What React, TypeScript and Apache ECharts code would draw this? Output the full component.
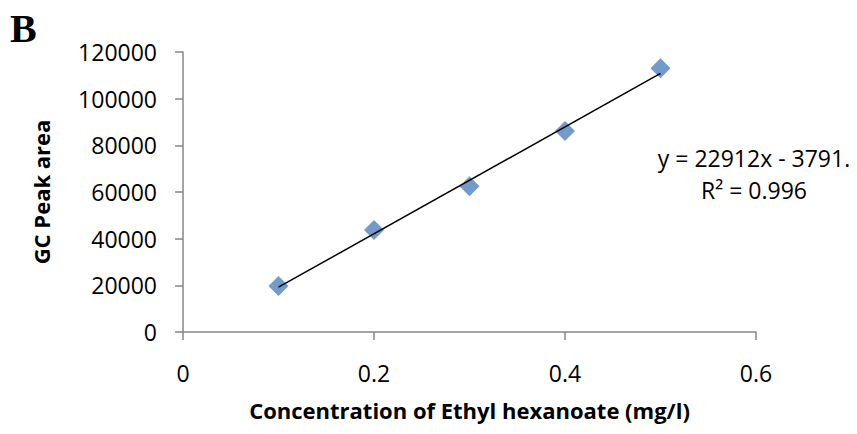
import React, { useEffect, useRef } from "react";
import * as echarts from "echarts";

const concentrations = [0.1, 0.2, 0.3, 0.4, 0.5];
const peakAreas = [19700, 43700, 62500, 86100, 113000];
const xTicks = { min: 0, max: 0.6, interval: 0.2 };
const yTicks = { min: 0, max: 120000, interval: 20000 };
const equationText = "y = 22912x - 3791.";
const r2Text = "R² = 0.996";
const panelLetter = "B";
const xTitle = "Concentration of Ethyl hexanoate (mg/l)";
const yTitle = "GC Peak area";

function linearFit(xs: number[], ys: number[]) {
  const n = xs.length;
  const mx = xs.reduce((a, b) => a + b, 0) / n;
  const my = ys.reduce((a, b) => a + b, 0) / n;
  let sxy = 0, sxx = 0;
  for (let i = 0; i < n; i++) {
    sxy += (xs[i] - mx) * (ys[i] - my);
    sxx += (xs[i] - mx) * (xs[i] - mx);
  }
  const slope = sxy / sxx;
  return { slope, intercept: my - slope * mx };
}

export default function App() {
  const ref = useRef<HTMLDivElement>(null);
  useEffect(() => {
    if (!ref.current) return;
    const chart = echarts.init(ref.current, undefined, { renderer: "svg" });
    const fit = linearFit(concentrations, peakAreas);
    const x0 = Math.min(...concentrations);
    const x1 = Math.max(...concentrations);
    const trend = [
      [x0, fit.slope * x0 + fit.intercept],
      [x1, fit.slope * x1 + fit.intercept],
    ];
    const font = "'Open Sans', sans-serif";
    const axisGrey = "#868686";
    chart.setOption({
      animation: false,
      backgroundColor: "#ffffff",
      grid: { left: 183, right: 101, top: 52, bottom: 102, containLabel: false },
      xAxis: {
        type: "value",
        min: xTicks.min,
        max: xTicks.max,
        interval: xTicks.interval,
        splitLine: { show: false },
        axisLine: { show: true, lineStyle: { color: axisGrey, width: 1.5 } },
        axisTick: { show: true, inside: false, length: 8, lineStyle: { color: axisGrey, width: 1.5 } },
        axisLabel: {
          color: "#000",
          fontSize: 23,
          fontFamily: font,
          margin: 29,
          showMinLabel: true,
          showMaxLabel: true,
          formatter: (v: number) => String(v),
        },
        name: xTitle,
        nameLocation: "middle",
        nameGap: 67,
        nameTextStyle: { color: "#000", fontSize: 22, fontWeight: "bold", fontFamily: font },
      },
      yAxis: {
        type: "value",
        min: yTicks.min,
        max: yTicks.max,
        interval: yTicks.interval,
        splitLine: { show: false },
        axisLine: { show: true, lineStyle: { color: axisGrey, width: 1.5 } },
        axisTick: { show: true, inside: false, length: 8, lineStyle: { color: axisGrey, width: 1.5 } },
        axisLabel: {
          color: "#000",
          fontSize: 23,
          fontFamily: font,
          margin: 26,
          formatter: (v: number) => String(v),
        },
        name: yTitle,
        nameLocation: "middle",
        nameGap: 131,
        nameTextStyle: { color: "#000", fontSize: 22, fontWeight: "bold", fontFamily: font },
      },
      series: [
        {
          type: "line",
          data: trend,
          showSymbol: false,
          symbol: "none",
          lineStyle: { color: "#000", width: 1.5 },
          z: 3,
        },
        {
          type: "scatter",
          data: concentrations.map((c, i) => [c, peakAreas[i]]),
          symbol: "diamond",
          symbolSize: 20,
          itemStyle: { color: "#4F81BD" },
          z: 2,
        },
      ],
      graphic: [
        {
          type: "text",
          left: 10,
          top: 8,
          style: {
            text: panelLetter,
            fontSize: 40,
            fontWeight: "bold",
            fontFamily: "'Liberation Serif', 'Times New Roman', serif",
            fill: "#000",
          },
        },
        {
          type: "text",
          x: 754,
          y: 174,
          style: {
            text: equationText + "\n" + r2Text,
            fontSize: 23,
            lineHeight: 32,
            fontFamily: font,
            fill: "#000",
            align: "center",
            verticalAlign: "middle",
          },
        },
      ],
    });
    return () => chart.dispose();
  }, []);
  return (
    <div
      ref={ref}
      style={{ position: "fixed", left: 0, top: 0, width: 857, height: 434, background: "#fff" }}
    />
  );
}
